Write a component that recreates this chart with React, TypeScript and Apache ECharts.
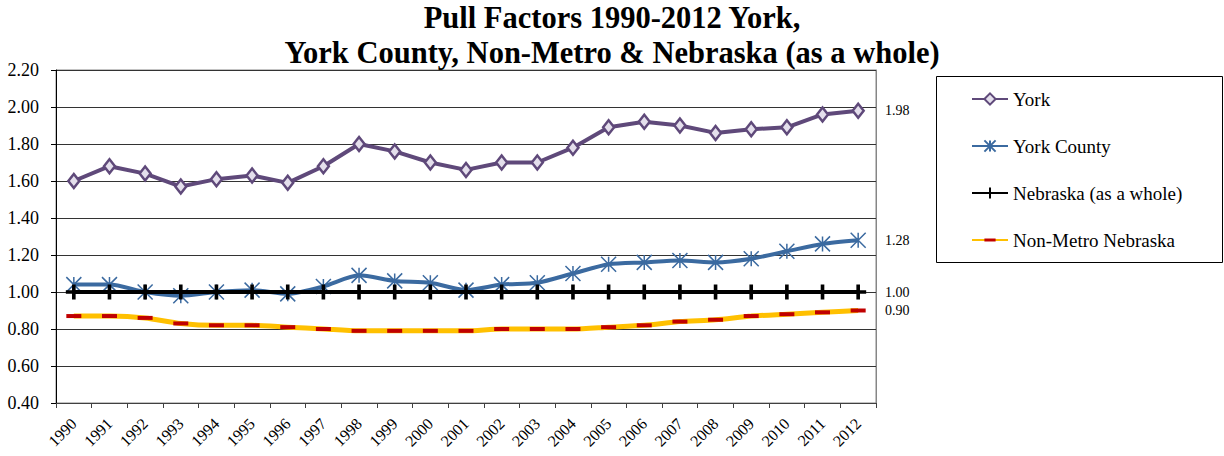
import React, { useEffect, useRef } from "react";
import * as echarts from "echarts";

const years = ["1990","1991","1992","1993","1994","1995","1996","1997","1998","1999","2000","2001","2002","2003","2004","2005","2006","2007","2008","2009","2010","2011","2012"];
const york = [1.60,1.68,1.64,1.57,1.61,1.63,1.59,1.68,1.80,1.76,1.70,1.66,1.70,1.70,1.78,1.89,1.92,1.90,1.86,1.88,1.89,1.96,1.98];
const yorkCounty = [1.04,1.04,1.00,0.98,1.00,1.01,0.99,1.03,1.09,1.06,1.05,1.01,1.04,1.05,1.10,1.15,1.16,1.17,1.16,1.18,1.22,1.26,1.28];
const nebraska = [1.00,1.00,1.00,1.00,1.00,1.00,1.00,1.00,1.00,1.00,1.00,1.00,1.00,1.00,1.00,1.00,1.00,1.00,1.00,1.00,1.00,1.00,1.00];
const nonMetro = [0.87,0.87,0.86,0.83,0.82,0.82,0.81,0.80,0.79,0.79,0.79,0.79,0.80,0.80,0.80,0.81,0.82,0.84,0.85,0.87,0.88,0.89,0.90];
const seriesNames = ["York","York County","Nebraska (as a whole)","Non-Metro Nebraska"];
const titleLines = ["Pull Factors 1990-2012 York,","York County, Non-Metro & Nebraska (as a whole)"];

const FONT = "Liberation Serif";

export default function App() {
  const ref = useRef<HTMLDivElement>(null);
  useEffect(() => {
    if (!ref.current) return;
    const chart = echarts.init(ref.current, null, { renderer: "svg" });
    const lastValues = [york, yorkCounty, nebraska, nonMetro].map((a) => a[a.length - 1]);
    chart.setOption({
      animation: false,
      backgroundColor: "#ffffff",
      textStyle: { fontFamily: FONT },
      title: {
        text: titleLines.join("\n"),
        left: "center",
        top: 0,
        padding: 0,
        textStyle: { fontFamily: FONT, fontSize: 30.5, fontWeight: "bold", color: "#000", lineHeight: 35 },
      },
      graphic: [
        {
          type: "rect",
          shape: { x: 936.5, y: 76.5, width: 286, height: 186 },
          style: { fill: "none", stroke: "#000", lineWidth: 1 },
          z: 0,
        },
      ],
      legend: {
        orient: "vertical",
        left: 971,
        top: 89,
        padding: 0,
        itemWidth: 36,
        itemHeight: 14,
        itemGap: 27,
        data: seriesNames,
        textStyle: { fontFamily: FONT, fontSize: 19, color: "#000", lineHeight: 20 },
      },
      grid: {
        left: 56,
        right: 348,
        top: 70,
        bottom: 53,
        show: true,
        borderColor: "#868686",
        borderWidth: 1,
        backgroundColor: "transparent",
      },
      xAxis: {
        type: "category",
        data: years,
        boundaryGap: true,
        axisLine: { show: true, lineStyle: { color: "#404040", width: 1 } },
        axisTick: { show: true, length: 5, inside: false, interval: 0, lineStyle: { color: "#404040" } },
        axisLabel: { interval: 0, rotate: 45, fontFamily: FONT, fontSize: 16, color: "#000", margin: 18 },
        splitLine: { show: false },
      },
      yAxis: [
        {
          type: "value",
          min: 0.4,
          max: 2.2,
          interval: 0.2,
          axisLine: { show: true, lineStyle: { color: "#000", width: 1 } },
          axisTick: { show: true, length: 5, lineStyle: { color: "#000" } },
          axisLabel: {
            fontFamily: FONT,
            fontSize: 18,
            color: "#000",
            margin: 17,
            formatter: (v: number) => v.toFixed(2),
          },
          splitLine: { show: true, lineStyle: { color: "#333", width: 1 } },
        },
        {
          type: "value",
          position: "right",
          min: 0.4,
          max: 2.2,
          axisLine: { show: true, lineStyle: { color: "#868686", width: 1 } },
          axisTick: { show: false },
          splitLine: { show: false },
          axisLabel: {
            customValues: lastValues,
            fontFamily: FONT,
            fontSize: 14,
            color: "#000",
            margin: 9,
            formatter: (v: number) => v.toFixed(2),
          },
        },
      ],
      series: [
        {
          name: seriesNames[0],
          type: "line",
          data: york,
          yAxisIndex: 0,
          symbol: "diamond",
          symbolSize: [11, 14],
          lineStyle: { color: "#5F497A", width: 4 },
          itemStyle: { color: "#E4DFEC", borderColor: "#5F497A", borderWidth: 2.5 },
          z: 5,
        },
        {
          name: seriesNames[1],
          type: "line",
          data: yorkCounty,
          smooth: 0.25,
          symbol: "path://M0,0L14,14M14,0L0,14M7,0L7,14",
          symbolSize: 15,
          lineStyle: { color: "#3B6AA0", width: 4 },
          itemStyle: { color: "#3B6AA0", borderColor: "#3B6AA0", borderWidth: 1.5 },
          z: 3,
        },
        {
          name: seriesNames[2],
          type: "line",
          data: nebraska,
          symbol: "path://M0,8L16,8M8,0L8,16",
          symbolSize: [16, 15],
          lineStyle: { color: "#000", width: 4 },
          itemStyle: { color: "#000", borderColor: "#000", borderWidth: 3.5 },
          z: 4,
        },
        {
          name: seriesNames[3],
          type: "line",
          data: nonMetro,
          smooth: 0.25,
          symbol: "path://M0,0M15,15M0,5.5L15,5.5L15,9.5L0,9.5Z",
          symbolSize: 15,
          lineStyle: { color: "#FFC000", width: 5 },
          itemStyle: { color: "#C00000", borderWidth: 0 },
          z: 3,
        },
      ],
    });
    return () => chart.dispose();
  }, []);
  return (
    <div
      ref={ref}
      style={{ position: "fixed", left: 0, top: 0, width: 1224, height: 456, background: "#fff" }}
    />
  );
}
